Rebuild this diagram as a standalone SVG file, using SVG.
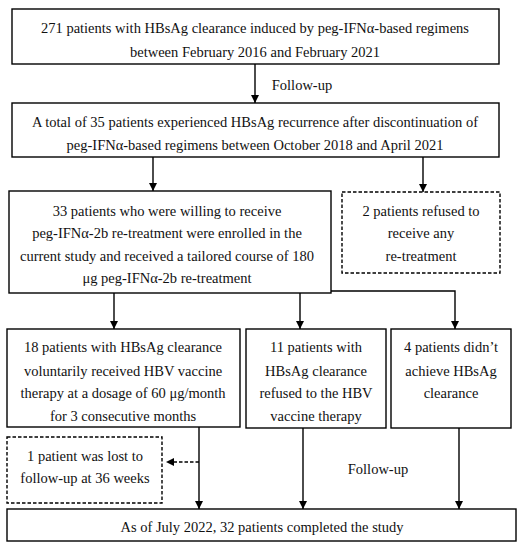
<svg xmlns="http://www.w3.org/2000/svg" width="526" height="550" viewBox="0 0 526 550">
<style>
.box{fill:#fff;stroke:#000;stroke-width:1.4}
.dash{fill:#fff;stroke:#000;stroke-width:1.4;stroke-dasharray:3.5 2}
.t{font-family:"Liberation Serif","DejaVu Serif",serif;font-size:14.5px;fill:#111;text-anchor:middle}
.ln{fill:none;stroke:#000;stroke-width:1.4}
.dl{fill:none;stroke:#000;stroke-width:1.4;stroke-dasharray:3.5 2}
</style>
<defs>
<marker id="ah" viewBox="0 0 10 10" refX="10" refY="5" markerWidth="8" markerHeight="8" markerUnits="userSpaceOnUse" orient="auto">
<path d="M0,0 L10,5 L0,10 z" fill="#000"/>
</marker>
</defs>
<rect width="526" height="550" fill="#fff"/>
<g id="connectors">
<line class="ln" x1="255" y1="64" x2="255" y2="103" marker-end="url(#ah)"/>
<text class="t" x="302" y="90">Follow-up</text>
<line class="ln" x1="153" y1="157" x2="153" y2="191" marker-end="url(#ah)"/>
<line class="ln" x1="423" y1="157" x2="423" y2="192" marker-end="url(#ah)"/>
<line class="ln" x1="114" y1="293" x2="114" y2="329" marker-end="url(#ah)"/>
<line class="ln" x1="300" y1="293" x2="300" y2="329" marker-end="url(#ah)"/>
<polyline class="ln" points="331,291 455,291 455,329" marker-end="url(#ah)"/>
<line class="ln" x1="199" y1="427" x2="199" y2="509" marker-end="url(#ah)"/>
<line class="dl" x1="199" y1="462" x2="166" y2="462" marker-end="url(#ah)"/>
<line class="ln" x1="303" y1="428" x2="303" y2="509" marker-end="url(#ah)"/>
<line class="ln" x1="459" y1="428" x2="459" y2="509" marker-end="url(#ah)"/>
<text class="t" x="378" y="474">Follow-up</text>
</g>
<g id="n1">
<rect class="box" x="12" y="9" width="487" height="55"/>
<text class="t" x="255" y="33">271 patients with HBsAg clearance induced by peg-IFNα-based regimens</text>
<text class="t" x="255" y="57">between February 2016 and February 2021</text>
</g>
<g id="n2">
<rect class="box" x="12" y="103" width="487" height="54"/>
<text class="t" x="255" y="127">A total of 35 patients experienced HBsAg recurrence after discontinuation of</text>
<text class="t" x="255" y="150">peg-IFNα-based regimens between October 2018 and April 2021</text>
</g>
<g id="n3">
<rect class="box" x="9" y="191" width="322" height="102"/>
<text class="t" x="167" y="216">33 patients who were willing to receive</text>
<text class="t" x="167" y="238">peg-IFNα-2b re-treatment were enrolled in the</text>
<text class="t" x="167" y="261">current study and received a tailored course of 180</text>
<text class="t" x="167" y="283">μg peg-IFNα-2b re-treatment</text>
</g>
<g id="n4">
<rect class="dash" x="342" y="192" width="158" height="81"/>
<text class="t" x="421" y="216">2 patients refused to</text>
<text class="t" x="421" y="238">receive any</text>
<text class="t" x="421" y="261">re-treatment</text>
</g>
<g id="n5">
<rect class="box" x="7" y="329" width="233" height="98"/>
<text class="t" x="123" y="352">18 patients with HBsAg clearance</text>
<text class="t" x="123" y="376">voluntarily received HBV vaccine</text>
<text class="t" x="123" y="398">therapy at a dosage of 60 μg/month</text>
<text class="t" x="123" y="421">for 3 consecutive months</text>
</g>
<g id="n6">
<rect class="box" x="246" y="329" width="140" height="99"/>
<text class="t" x="316" y="352">11 patients with</text>
<text class="t" x="316" y="376">HBsAg clearance</text>
<text class="t" x="316" y="398">refused to the HBV</text>
<text class="t" x="316" y="421">vaccine therapy</text>
</g>
<g id="n7">
<rect class="box" x="391" y="329" width="120" height="99"/>
<text class="t" x="451" y="352">4 patients didn’t</text>
<text class="t" x="451" y="376">achieve HBsAg</text>
<text class="t" x="451" y="398">clearance</text>
</g>
<g id="n8">
<rect class="dash" x="7" y="437" width="155" height="66"/>
<text class="t" x="85" y="461">1 patient was lost to</text>
<text class="t" x="85" y="483">follow-up at 36 weeks</text>
</g>
<g id="n9">
<rect class="box" x="7" y="509" width="509" height="32"/>
<text class="t" x="262" y="532">As of July 2022, 32 patients completed the study</text>
</g>
</svg>
